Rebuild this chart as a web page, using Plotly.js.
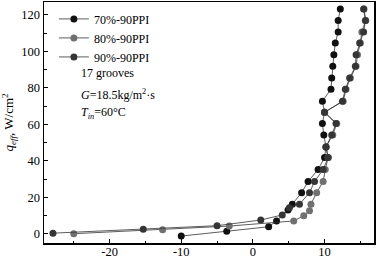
<!DOCTYPE html>
<html>
<head>
<meta charset="utf-8">
<script src="https://cdn.plot.ly/plotly-3.0.1.min.js"></script>
<style>html,body{margin:0;padding:0;background:#fff;}#chart{width:376px;height:258px;}</style>
</head>
<body>
<div id="chart"></div>
<script>
// Series names
const seriesNames = ["70%-90PPI", "80%-90PPI", "90%-90PPI"];

// 70%-90PPI
const x70 = [-10.0, -3.65, 2.2, 3.3, 4.9, 5.5, 6.8, 7.7, 9.1, 10.0, 10.2, 9.9, 9.7, 10.0, 9.7, 10.9, 11.0, 11.15, 11.3, 11.5, 11.9, 11.9, 12.2];
const y70 = [-1.3, 1.3, 3.8, 7.0, 13.0, 16.2, 22.5, 28.6, 35.2, 41.8, 47.6, 54.2, 60.4, 66.6, 72.7, 79.3, 85.4, 91.8, 98.2, 104.6, 110.7, 117.0, 123.3];

// 80%-90PPI
const x80 = [-25.0, -12.6, -3.3, 5.7, 7.1, 7.9, 8.1, 8.9, 9.8, 10.1, 10.5, 10.2, 11.15, 11.7, 10.0, 12.6, 13.0, 13.6, 14.4, 14.6, 15.0, 15.2, 15.75, 15.5];
const y80 = [0.0, 2.2, 4.2, 7.0, 9.9, 12.6, 16.2, 22.5, 28.6, 35.2, 41.8, 47.6, 54.2, 60.4, 66.6, 72.7, 79.3, 85.4, 91.8, 98.2, 104.6, 110.7, 117.0, 123.3];

// 90%-90PPI
const x90 = [-27.9, -15.3, -5.0, 1.1, 4.1, 5.1, 6.5, 7.9, 8.6, 9.8, 10.5, 10.2, 11.0, 11.6, 10.0, 12.5, 12.9, 13.5, 14.3, 14.4, 14.9, 15.45, 15.7, 15.45];
const y90 = [0.3, 2.4, 4.4, 7.5, 10.3, 14.3, 16.2, 22.5, 28.6, 35.2, 41.8, 47.6, 54.2, 60.4, 66.6, 72.7, 79.3, 85.4, 91.8, 98.2, 104.6, 110.7, 117.0, 123.3];

const markerColors = ["#111111", "#707070", "#353535"];
const xs = [x70, x80, x90];
const ys = [y70, y80, y90];

const FONT = "Liberation Serif, Times New Roman, serif";

const traces = seriesNames.map((n, i) => ({
  type: "scatter",
  mode: "lines+markers",
  name: n,
  x: xs[i],
  y: ys[i],
  line: {color: "#333333", width: 0.8},
  marker: {color: markerColors[i], size: 7, line: {width: 0}}
}));

const axisCommon = {
  showgrid: false,
  zeroline: false,
  showline: true,
  linecolor: "#000",
  linewidth: 1.5,
  mirror: true,
  ticks: "inside",
  ticklen: 4,
  tickwidth: 1,
  tickcolor: "#000",
  tickfont: {family: FONT, size: 12.5, color: "#000"}
};

const layout = {
  width: 376,
  height: 258,
  margin: {l: 44, r: 2, t: 2, b: 15},
  paper_bgcolor: "#fff",
  plot_bgcolor: "#fff",
  font: {family: FONT, color: "#000"},
  showlegend: true,
  legend: {
    x: 0.03, y: 0.99, xanchor: "left", yanchor: "top",
    bgcolor: "rgba(0,0,0,0)",
    font: {family: FONT, size: 12, color: "#000"},
    itemwidth: 30,
    tracegroupgap: 0
  },
  xaxis: Object.assign({}, axisCommon, {
    range: [-29.15, 16.9],
    tickvals: [-20, -10, 0, 10],
    ticktext: ["-20", "-10", "0", "10"],
    ticklabelstandoff: -4,
    minor: {tickvals: [-25, -15, -5, 5, 15], ticks: "inside", ticklen: 2.5, tickcolor: "#000"}
  }),
  yaxis: Object.assign({}, axisCommon, {
    range: [-5.1, 127.1],
    tickvals: [0, 20, 40, 60, 80, 100, 120],
    minor: {tickvals: [10, 30, 50, 70, 90, 110], ticks: "inside", ticklen: 2.5, tickcolor: "#000"},
    title: {text: "<i>q</i><sub><i>eff</i></sub>, W/cm<sup>2</sup>", font: {family: FONT, size: 13, color: "#000"}, standoff: 8}
  }),
  annotations: [
    {xref: "paper", yref: "paper", x: 0.107, y: 0.705, xanchor: "left", yanchor: "middle", showarrow: false,
     text: "17 grooves", font: {family: FONT, size: 12, color: "#000"}},
    {xref: "paper", yref: "paper", x: 0.107, y: 0.615, xanchor: "left", yanchor: "middle", showarrow: false,
     text: "<i>G</i>=18.5kg/m<sup>2</sup>·s", font: {family: FONT, size: 12, color: "#000"}},
    {xref: "paper", yref: "paper", x: 0.107, y: 0.54, xanchor: "left", yanchor: "middle", showarrow: false,
     text: "<i>T</i><sub><i>in</i></sub>=60°C", font: {family: FONT, size: 12, color: "#000"}}
  ]
};

Plotly.newPlot("chart", traces, layout, {displayModeBar: false, staticPlot: true});
</script>
</body>
</html>
